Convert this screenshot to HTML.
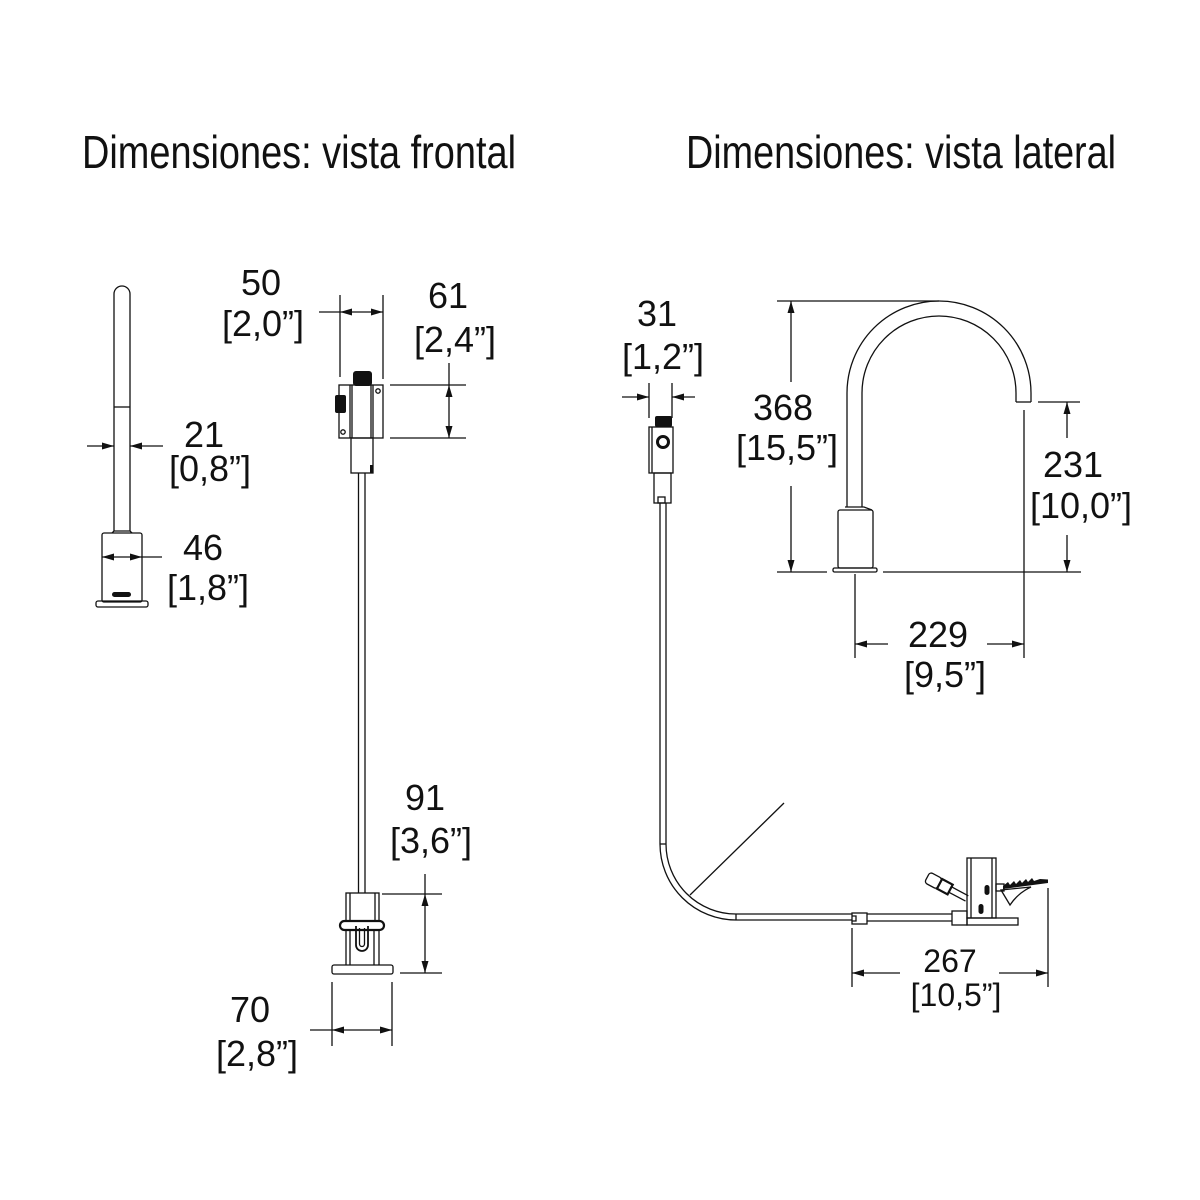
<!DOCTYPE html>
<html>
<head>
<meta charset="utf-8">
<style>
  html, body { margin: 0; padding: 0; background: #ffffff; }
  svg { display: block; }
  text { font-family: "Liberation Sans", sans-serif; fill: #111; }
</style>
</head>
<body>
<svg width="1200" height="1200" viewBox="0 0 1200 1200" xmlns="http://www.w3.org/2000/svg">
  <rect width="1200" height="1200" fill="#ffffff"/>

  <!-- Titles -->
  <text x="82" y="168" font-size="46" textLength="434" lengthAdjust="spacingAndGlyphs">Dimensiones: vista frontal</text>
  <text x="686" y="168" font-size="46" textLength="430" lengthAdjust="spacingAndGlyphs">Dimensiones: vista lateral</text>

  <g fill="none" stroke="#111" stroke-width="1.3">
    <!-- ===== Left faucet (frontal) ===== -->
    <path d="M114,531 L114,294 A8,8 0 0 1 130,294 L130,531"/>
    <line x1="114" y1="407" x2="130" y2="407"/>
    <path d="M112,533 L114,531 L130,531 L132,533"/>
    <rect x="102" y="533" width="40" height="69" rx="2"/>
    <rect x="96" y="601" width="52" height="6" rx="2"/>
    <!-- dim 21 -->
    <line x1="87" y1="446" x2="114" y2="446"/>
    <line x1="130" y1="446" x2="163" y2="446"/>
    <!-- dim 46 -->
    <line x1="102" y1="557" x2="162" y2="557"/>

    <!-- ===== Frontal main: control box ===== -->
    <line x1="340" y1="295" x2="340" y2="377"/>
    <line x1="383" y1="295" x2="383" y2="379"/>
    <line x1="319" y1="312" x2="383" y2="312"/>
    <rect x="339" y="385" width="44" height="53"/>
    <line x1="350" y1="385" x2="350" y2="438"/>
    <line x1="352" y1="385" x2="352" y2="438"/>
    <line x1="371" y1="385" x2="371" y2="438"/>
    <line x1="373" y1="385" x2="373" y2="438"/>
    <circle cx="378" cy="391" r="2.2"/>
    <circle cx="343" cy="432" r="2.2"/>
    <rect x="351" y="438" width="22" height="35"/>
    <!-- pipe -->
    <line x1="358.5" y1="473" x2="358.5" y2="893"/>
    <line x1="365" y1="473" x2="365" y2="893"/>
    <!-- dim 61 -->
    <line x1="390" y1="385" x2="466" y2="385"/>
    <line x1="390" y1="438" x2="466" y2="438"/>
    <line x1="449" y1="363" x2="449" y2="438"/>

    <!-- ===== Frontal main: bottom base ===== -->
    <rect x="346" y="893" width="33" height="28"/>
    <line x1="350" y1="893" x2="350" y2="921"/>
    <line x1="375" y1="893" x2="375" y2="921"/>
    <rect x="340" y="921" width="44" height="9" rx="4.5" stroke-width="2.2"/>
    <line x1="346" y1="930" x2="346" y2="965"/>
    <line x1="350" y1="930" x2="350" y2="965"/>
    <line x1="374" y1="930" x2="374" y2="965"/>
    <line x1="379" y1="930" x2="379" y2="965"/>
    <path d="M356,926 L356,945 A6,6 0 0 0 368,945 L368,926" stroke-width="1.8"/>
    <path d="M359.5,928 L359.5,944 A2.5,2.5 0 0 0 364.5,944 L364.5,928"/>
    <rect x="332" y="965" width="61" height="9" rx="2"/>
    <!-- dim 91 -->
    <line x1="382" y1="894" x2="442" y2="894"/>
    <line x1="400" y1="973" x2="442" y2="973"/>
    <line x1="425" y1="874" x2="425" y2="973"/>
    <!-- dim 70 -->
    <line x1="332" y1="982" x2="332" y2="1046"/>
    <line x1="392" y1="982" x2="392" y2="1046"/>
    <line x1="310" y1="1030" x2="392" y2="1030"/>

    <!-- ===== Side view: small control box ===== -->
    <line x1="649" y1="383" x2="649" y2="418"/>
    <line x1="672" y1="383" x2="672" y2="418"/>
    <line x1="622" y1="397" x2="649" y2="397"/>
    <line x1="672" y1="397" x2="695" y2="397"/>
    <rect x="649" y="427" width="24" height="46"/>
    <line x1="652" y1="427" x2="652" y2="473"/>
    <circle cx="663" cy="442" r="5.5" stroke-width="3"/>
    <rect x="654" y="473" width="17" height="30"/>
    <rect x="658" y="497" width="7" height="6"/>
    <!-- pipe -->
    <line x1="660" y1="503" x2="660" y2="844"/>
    <line x1="666" y1="503" x2="666" y2="844"/>
    <line x1="660" y1="844" x2="666" y2="844"/>
    <path d="M660,844 A76,76 0 0 0 736,920"/>
    <path d="M666,844 A70,70 0 0 0 736,914"/>
    <line x1="736" y1="914" x2="736" y2="920"/>
    <line x1="736" y1="914" x2="852" y2="914"/>
    <line x1="736" y1="920" x2="852" y2="920"/>
    <!-- leader -->
    <line x1="690" y1="895" x2="784" y2="803"/>

    <!-- ===== Pedal ===== -->
    <rect x="852" y="913" width="15" height="11"/>
    <path d="M852,916 L856,916 L856,921 L852,921"/>
    <line x1="867" y1="914" x2="952" y2="914"/>
    <line x1="867" y1="921" x2="952" y2="921"/>
    <rect x="952" y="911" width="15" height="14"/>
    <rect x="967" y="858" width="29" height="60"/>
    <line x1="971" y1="858" x2="971" y2="918"/>
    <line x1="992" y1="858" x2="992" y2="918"/>
    <rect x="967" y="918" width="51" height="7"/>
    <rect x="996" y="884" width="8" height="7"/>
    <path d="M1001,890 L1031,887 Q1018,893 1010,905 Z"/>
    <g transform="translate(930,872) rotate(28)">
      <rect x="0" y="0" width="14" height="12" rx="3"/>
      <rect x="14" y="0.5" width="12" height="11" stroke-width="2.2"/>
      <line x1="26" y1="3" x2="45" y2="3"/>
      <line x1="26" y1="9" x2="45" y2="9"/>
    </g>
    <!-- dim 267 -->
    <line x1="852" y1="928" x2="852" y2="987"/>
    <line x1="1048" y1="888" x2="1048" y2="987"/>
    <line x1="852" y1="973" x2="900" y2="973"/>
    <line x1="999" y1="973" x2="1048" y2="973"/>

    <!-- ===== Gooseneck ===== -->
    <path d="M847,507 L847,393 A92,92 0 0 1 1031,393 L1031,402"/>
    <path d="M862,507 L862,393 A77,77 0 0 1 1016,393 L1016,402"/>
    <line x1="1016" y1="402" x2="1031" y2="402"/>
    <path d="M845,507 L864,507 L872,510" />
    <rect x="838" y="510" width="35" height="58" rx="2"/>
    <rect x="833" y="568" width="44" height="4" rx="1.5"/>
    <!-- dim 368 -->
    <line x1="777" y1="301" x2="939" y2="301"/>
    <line x1="791" y1="301" x2="791" y2="382"/>
    <line x1="791" y1="486" x2="791" y2="572"/>
    <line x1="777" y1="572" x2="827" y2="572"/>
    <line x1="883" y1="572" x2="1081" y2="572"/>
    <!-- dim 231 -->
    <line x1="1038" y1="402" x2="1080" y2="402"/>
    <line x1="1067" y1="402" x2="1067" y2="438"/>
    <line x1="1067" y1="535" x2="1067" y2="572"/>
    <!-- dim 229 -->
    <line x1="1024" y1="410" x2="1024" y2="658"/>
    <line x1="855" y1="574" x2="855" y2="658"/>
    <line x1="855" y1="644" x2="888" y2="644"/>
    <line x1="987" y1="644" x2="1024" y2="644"/>
  </g>

  <!-- Filled details -->
  <g fill="#111" stroke="none">
    <rect x="112" y="592" width="19" height="5" rx="2.5"/>
    <rect x="353" y="371" width="19" height="15" rx="3"/>
    <rect x="335" y="395" width="11" height="18" rx="2"/>
    <rect x="370" y="465" width="3" height="8"/>
    <rect x="655" y="416" width="17" height="11" rx="2"/>
    <rect x="984.5" y="885" width="5" height="10" rx="2.5"/>
    <rect x="978.5" y="904" width="5" height="10" rx="2.5"/>
    <path d="M1003,886 L1008,882 L1010,885 L1014,881 L1016,884 L1020,880 L1022,883 L1026,879 L1028,882 L1032,878 L1034,881 L1040,879 L1048,879.5 L1048,883 L1003,889 Z"/>

    <!-- arrowheads -->
    <polygon points="114,446 102,442.5 102,449.5"/>
    <polygon points="130,446 142,442.5 142,449.5"/>
    <polygon points="102,557 114,553.5 114,560.5"/>
    <polygon points="142,557 130,553.5 130,560.5"/>
    <polygon points="340,312 352,308.5 352,315.5"/>
    <polygon points="383,312 371,308.5 371,315.5"/>
    <polygon points="449,385 445.5,397 452.5,397"/>
    <polygon points="449,438 445.5,426 452.5,426"/>
    <polygon points="425,894 421.5,906 428.5,906"/>
    <polygon points="425,973 421.5,961 428.5,961"/>
    <polygon points="332,1030 344,1026.5 344,1033.5"/>
    <polygon points="392,1030 380,1026.5 380,1033.5"/>
    <polygon points="649,397 637,393.5 637,400.5"/>
    <polygon points="672,397 684,393.5 684,400.5"/>
    <polygon points="791,301 787.5,313 794.5,313"/>
    <polygon points="791,572 787.5,560 794.5,560"/>
    <polygon points="1067,402 1063.5,414 1070.5,414"/>
    <polygon points="1067,572 1063.5,560 1070.5,560"/>
    <polygon points="855,644 867,640.5 867,647.5"/>
    <polygon points="1024,644 1012,640.5 1012,647.5"/>
    <polygon points="852,973 864,969.5 864,976.5"/>
    <polygon points="1048,973 1036,969.5 1036,976.5"/>
  </g>
  <circle cx="663" cy="442" r="1.5" fill="#fff"/>

  <!-- Dimension labels -->
  <g font-size="36" text-anchor="middle">
    <text x="261" y="295">50</text>
    <text x="263" y="336">[2,0”]</text>
    <text x="448" y="308">61</text>
    <text x="455" y="352">[2,4”]</text>
    <text x="204" y="447">21</text>
    <text x="210" y="481">[0,8”]</text>
    <text x="203" y="560">46</text>
    <text x="208" y="600">[1,8”]</text>
    <text x="425" y="810">91</text>
    <text x="431" y="853">[3,6”]</text>
    <text x="250" y="1022">70</text>
    <text x="257" y="1066">[2,8”]</text>
    <text x="657" y="326">31</text>
    <text x="663" y="369">[1,2”]</text>
    <text x="783" y="420">368</text>
    <text x="787" y="460">[15,5”]</text>
    <text x="1073" y="477">231</text>
    <text x="1081" y="518">[10,0”]</text>
    <text x="938" y="647">229</text>
    <text x="945" y="687">[9,5”]</text>
  </g>
  <g font-size="32" text-anchor="middle">
    <text x="950" y="972">267</text>
    <text x="956" y="1006">[10,5”]</text>
  </g>
</svg>
</body>
</html>
